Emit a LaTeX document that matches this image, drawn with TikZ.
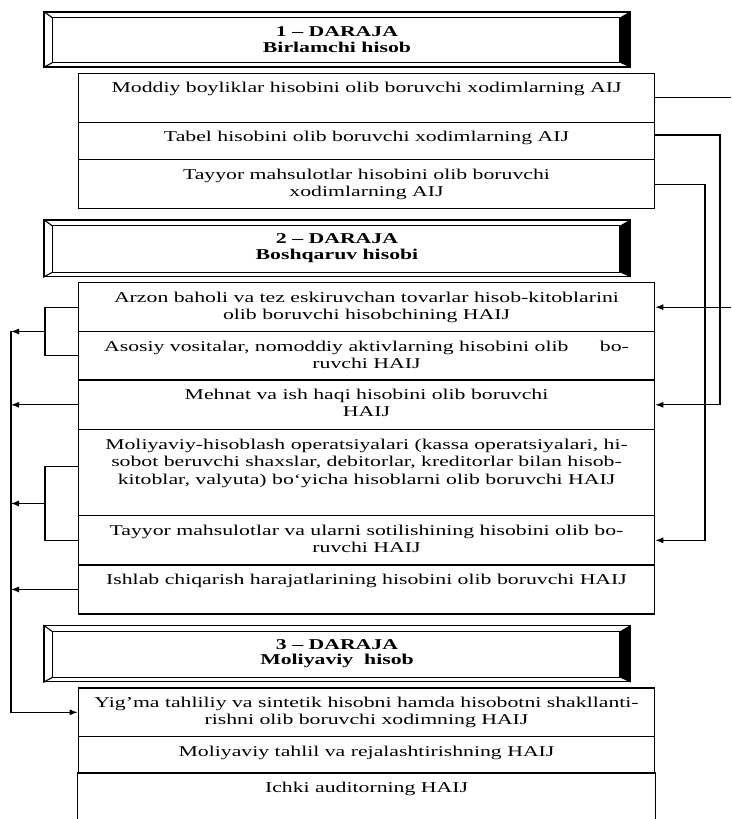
\documentclass[tikz,border=0pt]{standalone}
\usepackage{fontspec}
\setmainfont{Liberation Serif}[FakeStretch=1.45]
\usetikzlibrary{arrows.meta,calc}
\tikzset{
  cell/.style={draw, line width=1.3pt, inner sep=0pt, minimum width=576.3pt, anchor=north west},
  txt/.style={anchor=north, inner sep=0pt, align=center, font=\fontsize{15}{17.5}\selectfont},
  banner/.style={draw, line width=1.5pt, inner sep=0pt, minimum width=586pt, align=center,
    font=\fontsize{15}{15.5}\selectfont\bfseries},
  conn/.style={line width=1.1pt},
  arr/.style={conn, -{Latex[length=8pt,width=6pt]}},
}
\newcommand\bevelbox[1]{%
  \draw[line width=1.1pt] ([shift={(9,6.5)}]#1.north west) rectangle ([shift={(-11,-5)}]#1.south east);
  \draw[line width=1.1pt] (#1.north west) -- ([shift={(9,6.5)}]#1.north west)
    (#1.south west) -- ([shift={(9,-5)}]#1.south west);
  \fill (#1.north east) -- ([shift={(-11,6.5)}]#1.north east) -- ([shift={(-11,-5)}]#1.south east) -- (#1.south east) -- cycle;
}
\begin{document}
\begin{tikzpicture}[x=1pt,y=-1pt]
\fill[white] (0,0) rectangle (731,819);
\useasboundingbox (0,0) rectangle (731,819);

% banners
\node[banner, minimum height=55pt] (d1) at (337,39.4) {1 – DARAJA\\Birlamchi hisob};
\bevelbox{d1}
\node[banner, minimum height=56.5pt] (d2) at (337,248.3) {2 – DARAJA\\Boshqaruv hisobi};
\bevelbox{d2}
\node[banner, minimum height=56pt] (d3) at (337,653.7) {3 – DARAJA\\Moliyaviy\ \ hisob};
\bevelbox{d3}

% level 1
\node[cell, minimum height=49pt] (m1) at (77.7,72.7) {};
\node[cell, minimum height=37.3pt] (m2) at (77.7,121.7) {};
\node[cell, minimum height=49pt] (m3) at (77.7,159) {};
\node[txt] (tm1) at ([yshift=-9.5pt]m1.north) {Moddiy boyliklar hisobini olib boruvchi xodimlarning AIJ};
\node[txt] (tm2) at ([yshift=-9.5pt]m2.north) {Tabel hisobini olib boruvchi xodimlarning AIJ};
\node[txt] (tm3) at ([yshift=-9.5pt]m3.north) {Tayyor mahsulotlar hisobini olib boruvchi\\xodimlarning AIJ};

% level 2
\node[cell, minimum height=49pt] (n1) at (77.7,282) {};
\node[cell, minimum height=48.3pt] (n2) at (77.7,331) {};
\node[cell, minimum height=49.7pt] (n3) at (77.7,379.3) {};
\node[cell, minimum height=86pt] (n4) at (77.7,429) {};
\node[cell, minimum height=49.3pt] (n5) at (77.7,515) {};
\node[cell, minimum height=49pt] (n6) at (77.7,564.3) {};
\node[txt] (tn1) at ([yshift=-9.5pt]n1.north) {Arzon baholi va tez eskiruvchan tovarlar hisob-kitoblarini\\olib boruvchi hisobchining HAIJ};
\node[txt] (tn2) at ([yshift=-9.5pt]n2.north) {Asosiy vositalar, nomoddiy aktivlarning hisobini olib\hspace{26pt} bo-\\ruvchi HAIJ};
\node[txt] (tn3) at ([yshift=-9.5pt]n3.north) {Mehnat va ish haqi hisobini olib boruvchi\\HAIJ};
\node[txt] (tn4) at ([yshift=-9.5pt]n4.north) {Moliyaviy-hisoblash operatsiyalari (kassa operatsiyalari, hi-\\sobot beruvchi shaxslar, debitorlar, kreditorlar bilan hisob-\\kitoblar, valyuta) bo‘yicha hisoblarni olib boruvchi HAIJ};
\node[txt] (tn5) at ([yshift=-9.5pt]n5.north) {Tayyor mahsulotlar va ularni sotilishining hisobini olib bo-\\ruvchi HAIJ};
\node[txt] (tn6) at ([yshift=-9.5pt]n6.north) {Ishlab chiqarish harajatlarining hisobini olib boruvchi HAIJ};

% level 3
\node[cell, minimum height=48.7pt] (p1) at (77.7,687.3) {};
\node[cell, minimum height=36.3pt] (p2) at (77.7,736) {};
\node[cell, draw=none, minimum height=48pt] (p3) at (77.7,772.3) {};
\draw[line width=1.3pt] (p3.south west) -- (p3.north west) -- (p3.north east) -- (p3.south east);
\node[txt] (tp1) at ([yshift=-9.5pt]p1.north) {Yig'ma tahliliy va sintetik hisobni hamda hisobotni shakllanti-\\rishni olib boruvchi xodimning HAIJ};
\node[txt] (tp2) at ([yshift=-9.5pt]p2.north) {Moliyaviy tahlil va rejalashtirishning HAIJ};
\node[txt] (tp3) at ([yshift=-9.5pt]p3.north) {Ichki auditorning HAIJ};

% guide coordinates
\coordinate (edge) at (731,0);
\coordinate (xT) at (720,0);
\coordinate (xY) at (705,0);
\coordinate (xB) at (45,0);
\coordinate (bus) at (11,0);

% right connectors
\draw[conn] (m1.east) -- (m1.east -| edge);
\draw[arr] (n1.east -| edge) -- (n1.east);
\coordinate (m2e) at ([yshift=6pt]m2.east);
\draw[arr] (m2e) -- (m2e -| xT) |- (n3.east);
\draw[arr] (m3.east) -- (m3.east -| xY) |- (n5.east);

% left connectors
\draw[conn] (n1.west) -- (n1.west -| xB) |- (n2.west);
\coordinate (k1) at ($(n1.west -| xB)!0.5!(n2.west -| xB)$);
\draw[arr] (k1) -- (k1 -| bus);
\draw[arr] (n3.west) -- (n3.west -| bus);
\coordinate (n4w) at ([yshift=6pt]n4.west);
\draw[conn] (n4w) -- (n4w -| xB) |- (n5.west);
\coordinate (k2) at ($(n4w -| xB)!0.5!(n5.west -| xB)$);
\draw[arr] (k2) -- (k2 -| bus);
\draw[arr] (n6.west) -- (n6.west -| bus);
\draw[arr] (k1 -| bus) |- (p1.west);
\end{tikzpicture}
\end{document}
